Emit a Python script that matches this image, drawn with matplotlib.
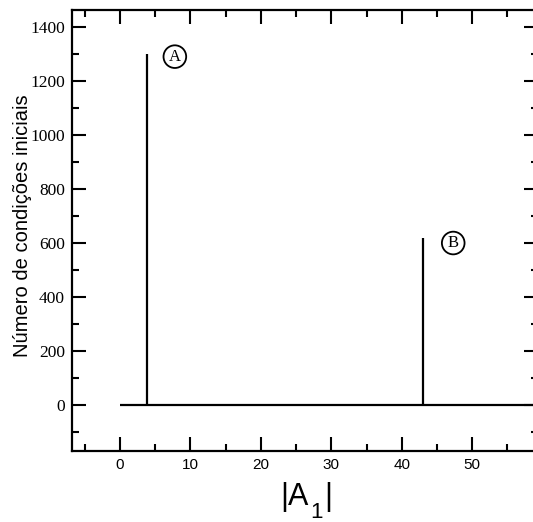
import matplotlib
matplotlib.use("Agg")
import matplotlib.pyplot as plt
from matplotlib.ticker import MultipleLocator

plt.rcParams['font.family'] = ['Liberation Serif', 'DejaVu Serif']

# data
spike_x = [3.8, 43.0]
spike_h = [1300, 620]
base_start = 0.0
labels = ['A', 'B']
label_x = [7.8, 47.3]
label_y = [1290, 600]

W, H = 533, 522
fig = plt.figure(figsize=(W / 100, H / 100), dpi=100)
ax = fig.add_axes([0.135, 0.136, 0.874, 0.845])
xmin, xmax = -6.8, 59.3
ax.set_xlim(xmin, xmax)
ax.set_ylim(-170, 1463)

ax.hlines(0, base_start, xmax, color='black', lw=1.6)
ax.vlines(spike_x, 0, spike_h, color='black', lw=1.6)

for t, lx, ly in zip(labels, label_x, label_y):
    ax.text(lx, ly, t, ha='center', va='center', fontsize=12,
            bbox=dict(boxstyle='circle,pad=0.2', fc='white', ec='black', lw=1.3))

ax.xaxis.set_major_locator(MultipleLocator(10))
ax.xaxis.set_minor_locator(MultipleLocator(5))
ax.yaxis.set_major_locator(MultipleLocator(200))
ax.yaxis.set_minor_locator(MultipleLocator(100))
ax.tick_params(which='both', direction='in', top=True, right=True, width=1.5)
ax.tick_params(which='major', length=10)
ax.tick_params(which='minor', length=5)
ax.tick_params(axis='y', labelsize=12.5, pad=5)
ax.tick_params(axis='x', labelsize=11, pad=5)
for lab in ax.get_xticklabels():
    lab.set_fontfamily(['Liberation Sans', 'DejaVu Sans'])
for s in ax.spines.values():
    s.set_linewidth(1.6)

sans = ['Liberation Sans', 'DejaVu Sans']
ax.set_ylabel('Número de condições iniciais', fontsize=14.5,
              family=sans)
ax.yaxis.set_label_coords(-0.086, 0.51)

# x label |A1| with a large, low subscript
fig.text(309 / W, (H - 505) / H, '|A', ha='right', va='baseline',
         fontsize=22, family=sans)
fig.text(310 / W, (H - 518) / H, '1', ha='left', va='baseline',
         fontsize=16, family=sans)
fig.text(324 / W, (H - 505) / H, '|', ha='left', va='baseline',
         fontsize=22, family=sans)

fig.savefig('out.png', dpi=100)
